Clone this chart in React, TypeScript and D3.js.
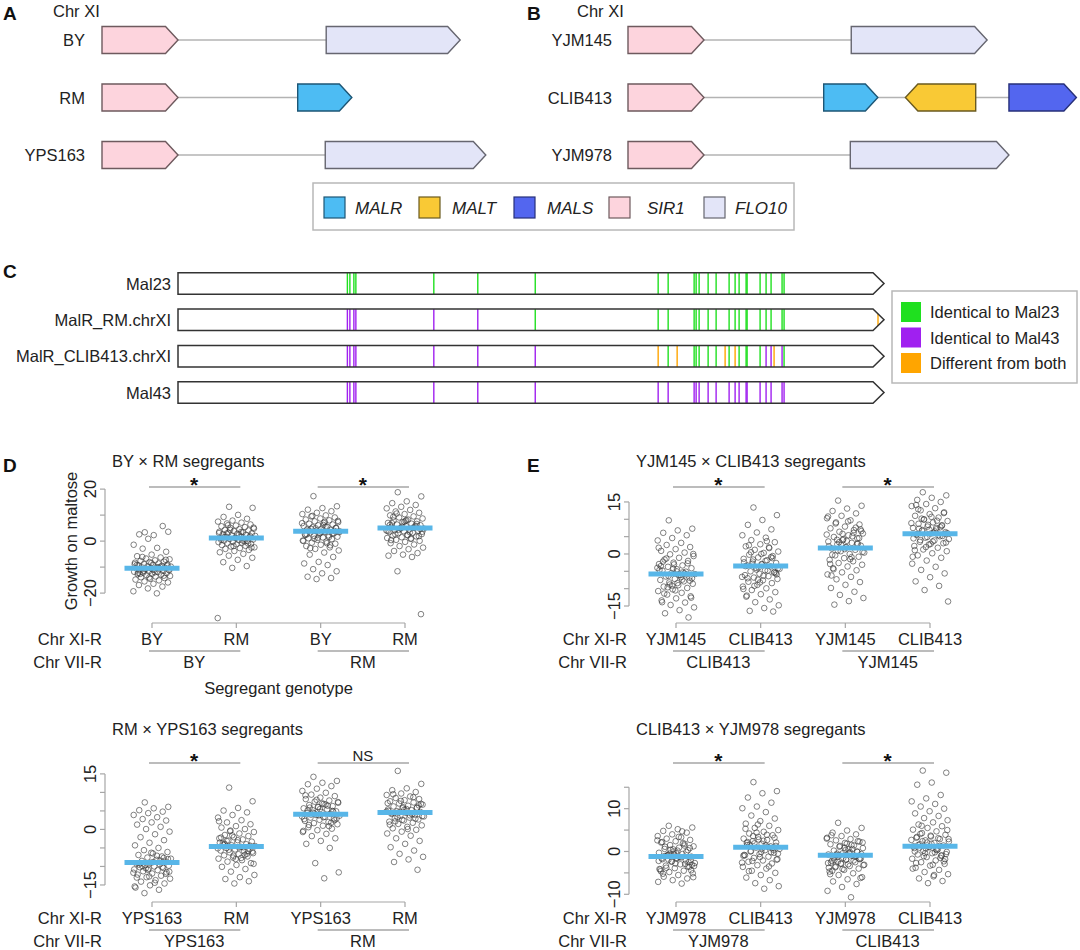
import React from "react";
import * as d3 from "d3";

// ---------------- DATA ----------------
// Panel A / B: gene structures on Chr XI (positions in kb from SIR1 start)
const GENE_NAMES = ["MALR", "MALT", "MALS", "SIR1", "FLO10"];
const STRAINS_A = ["BY", "RM", "YPS163"];
const STRAINS_B = ["YJM145", "CLIB413", "YJM978"];
const GENES_A = [
  { strain: "BY", gene: "SIR1", start: 0, end: 4.0, strand: 1 },
  { strain: "BY", gene: "FLO10", start: 11.8, end: 18.85, strand: 1 },
  { strain: "RM", gene: "SIR1", start: 0, end: 4.0, strand: 1 },
  { strain: "RM", gene: "MALR", start: 10.3, end: 13.15, strand: 1 },
  { strain: "YPS163", gene: "SIR1", start: 0, end: 4.0, strand: 1 },
  { strain: "YPS163", gene: "FLO10", start: 11.75, end: 20.2, strand: 1 },
];
const GENES_B = [
  { strain: "YJM145", gene: "SIR1", start: 0, end: 4.0, strand: 1 },
  { strain: "YJM145", gene: "FLO10", start: 11.75, end: 18.9, strand: 1 },
  { strain: "CLIB413", gene: "SIR1", start: 0, end: 4.0, strand: 1 },
  { strain: "CLIB413", gene: "MALR", start: 10.3, end: 13.15, strand: 1 },
  { strain: "CLIB413", gene: "MALT", start: 14.6, end: 18.3, strand: -1 },
  { strain: "CLIB413", gene: "MALS", start: 20.05, end: 23.6, strand: 1 },
  { strain: "YJM978", gene: "SIR1", start: 0, end: 4.0, strand: 1 },
  { strain: "YJM978", gene: "FLO10", start: 11.7, end: 20.05, strand: 1 },
];

// Panel C: MalR alleles, variant positions (bp) and calls (G = Mal23, P = Mal43, O = different, . = none)
const ALLELES = ["Mal23", "MalR_RM.chrXI", "MalR_CLIB413.chrXI", "Mal43"];
const MALR_LENGTH = 1413;
const VARIANT_POS = [339, 344, 352, 356, 512, 600, 715, 961, 981, 999, 1033, 1037, 1043, 1061, 1077, 1095, 1103, 1115, 1123, 1137, 1139, 1165, 1177, 1187, 1193, 1209, 1213, 1401];
const VARIANT_CALLS = [
  "GGGGGGGGG.GGGGG.GGGGGGGG.GG.",
  "PPPPPPGGG.GGGGG.GGGGGGGG.GGO",
  "PPPPPPPOGOGGGGGOGOGGGGPPOPG.",
  "PPPPPPPPP.PPPPP.PPPPPPPP.PP.",
];
const VARIANT_LEGEND = ["Identical to Mal23", "Identical to Mal43", "Different from both"];

// Panel D top: BY x RM segregants
const TITLE_BY_RM = "BY × RM segregants";
const XI_BY_RM = ["BY", "RM", "BY", "RM"];
const VII_BY_RM = ["BY", "RM"];
const SIG_BY_RM = ["*", "*"];
const MEANS_BY_RM = [-10.4, 1.2, 3.8, 5.0];
const TICKS_BY_RM = [-20, -10, 0, 10, 20];
const TICKLABELS_BY_RM = [-20, 0, 20];
const BYBY_BYRM = [3.4, 3.6, 2.3, 2.6, 5.8, 0.9, -1.4, -2.6, -2.9, -4.1, -5.2, -5.8, -6.3, -6.7, -7.0, -7.4, -7.6, -7.9, -8.1, -8.3, -8.6, -8.8, -9.0, -9.1, -9.3, -9.5, -9.7, -9.8, -10.0, -10.1, -10.3, -10.4, -10.5, -10.7, -10.8, -11.0, -11.1, -11.3, -11.4, -11.6, -11.8, -11.9, -12.1, -12.3, -12.5, -12.7, -12.9, -13.1, -13.4, -13.6, -13.9, -14.2, -14.5, -14.8, -15.1, -15.5, -15.9, -16.4, -16.9, -17.5, -18.2, -19.3, -20.1, -6.1, -7.2, -8.4, -9.2, -9.9, -10.6, -11.2, -12.0, -12.6, -13.3, -14.0, -8.9, -10.2, -11.5, -9.4, -10.9, -12.2];
const RMBY_BYRM = [13.2, 12.8, 10.1, 9.3, 8.6, 7.9, 7.5, 7.1, 6.8, 6.4, 6.0, 5.7, 5.4, 5.1, 4.8, 4.6, 4.3, 4.1, 3.9, 3.6, 3.4, 3.2, 3.0, 2.8, 2.6, 2.4, 2.2, 2.0, 1.8, 1.7, 1.5, 1.3, 1.1, 0.9, 0.8, 0.6, 0.4, 0.2, 0.0, -0.2, -0.4, -0.6, -0.8, -1.0, -1.2, -1.5, -1.8, -2.1, -2.4, -2.7, -3.0, -3.4, -3.8, -4.3, -4.9, -5.6, -6.4, -7.2, -8.1, -9.6, -10.3, -29.6, 3.5, 2.9, 1.9, 1.2, 0.5, -0.1, 4.4, 5.2, 2.5, 1.6, -0.9, -1.9, 3.1, 0.3, 6.1, -2.5];
const BYRM_BYRM = [17.3, 13.4, 12.7, 12.1, 11.5, 10.9, 10.4, 9.9, 9.5, 9.1, 8.7, 8.3, 8.0, 7.6, 7.3, 7.0, 6.7, 6.4, 6.1, 5.8, 5.5, 5.3, 5.0, 4.8, 4.5, 4.3, 4.0, 3.8, 3.5, 3.3, 3.0, 2.8, 2.5, 2.2, 2.0, 1.7, 1.4, 1.1, 0.8, 0.5, 0.2, -0.2, -0.6, -1.0, -1.4, -1.9, -2.4, -3.0, -3.6, -4.4, -5.2, -6.1, -8.0, -8.6, -9.2, -10.8, -11.6, -12.4, -13.7, -14.2, -14.6, 6.9, 5.6, 4.7, 3.9, 3.1, 2.4, 1.6, 0.9, 7.8, 6.2, 4.1, 2.9, 1.3, 0.1, -0.8, 9.7, 5.1, 3.6, 2.6, -1.6, 4.9, 3.4, 7.4, -2.7];
const RMRM_BYRM = [18.8, 17.2, 15.3, 14.6, 13.9, 13.2, 12.6, 12.0, 11.4, 10.9, 10.4, 9.9, 9.5, 9.1, 8.7, 8.3, 7.9, 7.6, 7.3, 7.0, 6.7, 6.4, 6.1, 5.8, 5.5, 5.3, 5.0, 4.8, 4.5, 4.3, 4.0, 3.8, 3.5, 3.2, 3.0, 2.7, 2.4, 2.1, 1.8, 1.5, 1.2, 0.9, 0.5, 0.1, -0.3, -0.8, -1.3, -1.9, -2.5, -3.1, -3.8, -4.6, -5.2, -5.6, -6.1, -11.6, -28.1, 8.1, 6.9, 5.9, 4.9, 4.1, 3.4, 2.6, 1.9, 7.4, 6.2, 5.2, 4.4, 3.6, 2.2, 9.3, 6.6, 5.6, 3.9, 1.0, 10.6, 4.7, 7.8, 0.4];

// Panel D bottom: RM x YPS163 segregants
const TITLE_RM_YPS = "RM × YPS163 segregants";
const XI_RM_YPS = ["YPS163", "RM", "YPS163", "RM"];
const VII_RM_YPS = ["YPS163", "RM"];
const SIG_RM_YPS = ["*", "NS"];
const MEANS_RM_YPS = [-8.9, -4.6, 4.1, 4.6];
const TICKS_15 = [-15, -10, -5, 0, 5, 10, 15];
const TICKLABELS_15 = [-15, 0, 15];
const YPSYPS_RMYPS = [7.3, 6.1, 5.7, 5.2, 4.8, 4.4, 3.9, 3.3, 2.8, 2.4, 1.9, 1.3, 0.7, 0.1, -0.6, -1.3, -2.1, -2.9, -3.6, -4.3, -5.0, -5.6, -6.1, -6.5, -6.9, -7.3, -7.6, -7.9, -8.2, -8.5, -8.7, -9.0, -9.2, -9.4, -9.6, -9.8, -10.0, -10.2, -10.4, -10.6, -10.8, -11.0, -11.3, -11.6, -11.9, -12.2, -12.5, -12.9, -13.3, -13.7, -14.1, -14.6, -15.1, -15.7, -16.3, -17.2, -8.0, -8.8, -9.5, -10.1, -10.9, -11.7, -7.1, -9.9, -12.0, -6.3, -13.0, -8.4, -10.5, -11.4, -14.4, -9.1, -7.7, -12.7, -15.4];
const RMYPS_RMYPS = [11.3, 7.6, 5.8, 5.1, 4.6, 3.9, 3.2, 2.5, 1.9, 1.4, 0.9, 0.5, 0.1, -0.3, -0.7, -1.1, -1.5, -1.8, -2.1, -2.4, -2.7, -3.0, -3.3, -3.5, -3.8, -4.0, -4.3, -4.5, -4.7, -5.0, -5.2, -5.4, -5.7, -5.9, -6.2, -6.4, -6.7, -7.0, -7.3, -7.6, -7.9, -8.3, -8.7, -9.1, -9.6, -10.1, -10.7, -11.4, -12.3, -12.9, -13.4, -14.0, -14.6, -3.6, -4.8, -5.5, -6.0, -2.9, -4.2, -6.6, -1.6, -5.1, -7.7, -3.1, -4.4, -8.0, -2.2, -6.9, -0.5, -9.3, -4.9, -3.9, -5.8, -7.1, 2.2];
const YPSRM_RMYPS = [14.2, 13.1, 12.6, 12.2, 11.7, 11.0, 10.4, 9.9, 9.4, 9.0, 8.6, 8.2, 7.8, 7.5, 7.2, 6.9, 6.6, 6.3, 6.0, 5.7, 5.4, 5.2, 4.9, 4.7, 4.4, 4.2, 3.9, 3.7, 3.4, 3.2, 2.9, 2.6, 2.3, 2.0, 1.7, 1.4, 1.0, 0.6, 0.2, -0.2, -0.7, -1.2, -1.8, -2.4, -3.1, -3.9, -5.0, -9.1, -11.6, -13.2, 5.9, 4.8, 3.8, 2.8, 6.4, 4.5, 3.0, 7.0, 5.1, 1.8, 8.0, 3.5, 6.7, 4.0, 2.5, 5.5, 9.2, 0.9, 4.3, 7.4, 3.3, 1.2, 5.0, 6.1, -0.4];
const RMRM_RMYPS = [15.8, 12.3, 11.1, 10.6, 10.1, 9.7, 9.3, 8.9, 8.5, 8.2, 7.9, 7.6, 7.3, 7.0, 6.7, 6.4, 6.2, 5.9, 5.7, 5.4, 5.2, 4.9, 4.7, 4.5, 4.2, 4.0, 3.7, 3.5, 3.2, 3.0, 2.7, 2.4, 2.1, 1.8, 1.5, 1.1, 0.7, 0.3, -0.1, -0.6, -1.1, -1.7, -2.4, -3.1, -3.9, -4.8, -5.7, -6.6, -7.4, -8.1, -8.8, -10.9, 6.0, 5.0, 4.1, 3.3, 6.9, 5.5, 4.4, 2.9, 7.7, 4.8, 3.8, 2.2, 6.5, 5.3, 1.3, 8.7, 4.6, 3.6, 0.1, 9.5, 5.8, 2.6, 7.1];

// Panel E top: YJM145 x CLIB413 segregants
const TITLE_YJM_CLIB = "YJM145 × CLIB413 segregants";
const XI_YJM_CLIB = ["YJM145", "CLIB413", "YJM145", "CLIB413"];
const VII_YJM_CLIB = ["CLIB413", "YJM145"];
const SIG_YJM_CLIB = ["*", "*"];
const MEANS_YJM_CLIB = [-5.8, -3.5, 1.7, 5.8];
const YJMCLIB_1 = [9.7, 7.3, 6.8, 6.1, 5.4, 4.6, 3.9, 3.2, 2.6, 2.0, 1.4, 0.9, 0.4, -0.1, -0.6, -1.1, -1.6, -2.0, -2.5, -2.9, -3.3, -3.7, -4.1, -4.4, -4.8, -5.1, -5.5, -5.8, -6.1, -6.5, -6.8, -7.2, -7.5, -7.9, -8.2, -8.6, -9.0, -9.4, -9.8, -10.2, -10.7, -11.2, -11.7, -12.2, -12.8, -13.4, -14.0, -14.7, -15.4, -16.2, -17.1, -18.3, -3.0, -4.6, -5.3, -6.3, -7.0, -8.4, -2.2, -5.9, -9.1, -4.0, -6.7, -1.3, -7.7, -10.5, -3.5, -5.6, -8.8, 0.0, -6.0, -11.4, -2.7, -4.3, 1.8, -7.4, -9.6, -12.6, -5.0, -13.9];
const YJMCLIB_2 = [13.4, 11.2, 9.8, 8.4, 7.1, 6.2, 5.4, 4.7, 4.0, 3.4, 2.8, 2.2, 1.7, 1.2, 0.7, 0.3, -0.2, -0.6, -1.0, -1.4, -1.8, -2.2, -2.6, -2.9, -3.3, -3.6, -4.0, -4.3, -4.7, -5.0, -5.4, -5.7, -6.1, -6.4, -6.8, -7.2, -7.6, -8.0, -8.4, -8.9, -9.4, -9.9, -10.4, -11.0, -11.6, -12.3, -13.1, -13.9, -14.8, -15.6, -16.4, -16.6, -3.9, -2.4, -4.8, -1.6, -5.9, -3.0, -7.0, -0.9, -4.5, -6.6, -2.0, 0.5, -5.2, -8.2, -3.5, 1.9, -9.2, -4.1, -6.3, 2.5, -1.2, -7.4, -10.1, 3.7, -2.8, -5.5, 0.0, -12.0];
const YJMCLIB_3 = [15.4, 13.9, 13.1, 12.4, 11.7, 11.0, 10.3, 9.7, 9.1, 8.5, 7.9, 7.4, 6.9, 6.4, 5.9, 5.4, 4.9, 4.5, 4.0, 3.6, 3.2, 2.8, 2.4, 2.0, 1.6, 1.2, 0.8, 0.4, 0.0, -0.4, -0.8, -1.2, -1.7, -2.1, -2.6, -3.1, -3.6, -4.1, -4.7, -5.3, -5.9, -6.6, -7.3, -8.1, -8.9, -9.8, -10.9, -11.8, -12.7, -13.6, -14.6, 3.0, 4.3, 2.2, 5.1, 1.0, 6.6, 3.8, -0.2, 7.6, 2.6, 5.6, -1.5, 8.8, 4.6, 1.4, -2.9, 6.1, 3.4, 0.6, 9.4, -4.4, 2.9, 5.8, 10.8, -0.9, 4.1, 7.1, 1.9, -6.2];
const YJMCLIB_4 = [17.8, 16.9, 16.2, 15.6, 15.0, 14.4, 13.8, 13.2, 12.6, 12.0, 11.5, 11.0, 10.5, 10.0, 9.5, 9.1, 8.7, 8.3, 7.9, 7.5, 7.1, 6.7, 6.3, 5.9, 5.5, 5.1, 4.7, 4.3, 3.9, 3.5, 3.1, 2.7, 2.3, 1.8, 1.3, 0.8, 0.2, -0.4, -1.1, -1.9, -2.8, -3.7, -4.6, -5.6, -6.7, -7.9, -9.2, -10.4, -13.7, 6.1, 7.3, 5.2, 8.4, 4.5, 9.6, 6.9, 3.3, 10.7, 5.7, 7.7, 2.0, 8.9, 6.5, 4.0, 11.8, 7.0, 1.1, 5.4, 9.9, 6.0, 3.6, 12.9, 8.1, 4.9, -0.8, 7.5, 10.2, 5.8, 2.9, 14.1];

// Panel E bottom: CLIB413 x YJM978 segregants
const TITLE_CLIB_YJM978 = "CLIB413 × YJM978 segregants";
const XI_CLIB_YJM978 = ["YJM978", "CLIB413", "YJM978", "CLIB413"];
const VII_CLIB_YJM978 = ["YJM978", "CLIB413"];
const SIG_CLIB_YJM978 = ["*", "*"];
const MEANS_CLIB_YJM978 = [-1.2, 1.0, -0.9, 1.2];
const TICKS_10 = [-10, -5, 0, 5, 10, 15];
const TICKLABELS_10 = [-10, 0, 10];
const CLIBYJM_1 = [6.0, 5.6, 5.2, 4.8, 4.4, 4.0, 3.6, 3.3, 3.0, 2.7, 2.4, 2.1, 1.8, 1.5, 1.2, 0.9, 0.6, 0.3, 0.0, -0.3, -0.6, -0.9, -1.2, -1.5, -1.8, -2.1, -2.4, -2.7, -3.0, -3.3, -3.6, -3.9, -4.2, -4.5, -4.8, -5.1, -5.5, -5.9, -6.3, -6.7, -7.1, -7.5, -1.0, -2.0, -0.4, -1.6, -2.9, 0.4, -3.4, -1.3, 1.1, -2.5, -0.7, -4.1, 1.9, -1.9, -3.1, 0.2, -5.2, -0.1, -2.3, 2.6, -1.4, -3.8, 0.8, -2.8, -4.6, 1.4, -0.5, -6.0, 3.4, -1.1, -3.5, 0.5, -2.2, 4.7, -0.8, -4.4, -1.7, 2.2];
const CLIBYJM_2 = [16.2, 14.1, 13.6, 12.6, 11.4, 10.5, 10.1, 9.2, 8.4, 7.7, 7.1, 6.5, 6.0, 5.5, 5.0, 4.6, 4.2, 3.8, 3.4, 3.0, 2.7, 2.4, 2.1, 1.8, 1.5, 1.2, 0.9, 0.6, 0.3, 0.0, -0.3, -0.6, -0.9, -1.2, -1.5, -1.8, -2.1, -2.4, -2.8, -3.2, -3.6, -4.0, -4.5, -5.0, -5.5, -6.1, -6.7, -7.4, -8.1, -8.7, 1.6, 0.4, 2.8, -0.8, 1.1, 3.6, -1.9, 0.7, 2.2, -0.2, 4.4, -2.6, 1.4, 0.1, 3.2, -1.3, 5.3, -3.5, 1.9, -0.5, 2.5, -4.6, 0.8, 6.3, -1.0, 3.9, -2.2, 1.3, -0.1, 2.0];
const CLIBYJM_3 = [6.7, 5.5, 4.9, 4.4, 4.0, 3.6, 3.2, 2.9, 2.6, 2.3, 2.0, 1.7, 1.4, 1.1, 0.8, 0.5, 0.2, -0.1, -0.4, -0.7, -1.0, -1.3, -1.6, -1.9, -2.2, -2.5, -2.8, -3.1, -3.4, -3.7, -4.0, -4.3, -4.7, -5.1, -5.5, -6.0, -6.5, -7.0, -7.6, -8.3, -9.2, -10.7, -0.8, -1.8, 0.3, -2.6, -1.2, 1.3, -3.2, -0.3, -2.0, 2.4, -1.5, -3.8, 0.6, -2.4, -0.6, 1.8, -4.5, -1.1, -2.9, 3.0, -0.2, -3.5, -1.7, 0.9, -5.3, -2.1, -0.9, 2.1, -3.0, -1.4, 0.0, -4.1, -2.7, 1.5, -0.5, -6.2, -1.9, 3.8];
const CLIBYJM_4 = [18.9, 18.4, 16.1, 15.6, 13.2, 12.4, 11.7, 11.1, 10.5, 10.0, 9.4, 8.9, 8.3, 7.8, 7.3, 6.8, 6.3, 5.9, 5.5, 5.1, 4.7, 4.3, 3.9, 3.5, 3.2, 2.9, 2.6, 2.3, 2.0, 1.7, 1.4, 1.1, 0.8, 0.5, 0.2, -0.1, -0.4, -0.7, -1.0, -1.3, -1.7, -2.1, -2.5, -2.9, -3.3, -3.8, -4.3, -4.8, -5.3, -5.8, -6.3, -6.9, -7.4, 1.2, 0.3, 2.4, -0.6, 1.8, 3.4, -1.5, 0.7, 2.7, -0.2, 4.1, -2.3, 1.0, 0.0, 3.1, -1.1, 5.0, -3.1, 1.5, -0.9, 2.1, -4.0, 0.5, 6.0, -1.8, 3.7, -2.7, 1.3, -0.4, 2.9, -5.5, 0.9];

// ---------------- STYLE ----------------
const FONT = "'Liberation Sans', Arial, Helvetica, sans-serif";
const TXT = "#222";
const FS = 16.5;
const GENE_STYLE: Record<string, { fill: string; stroke: string }> = {
  MALR: { fill: "#4dbcf3", stroke: "#1d5675" },
  MALT: { fill: "#f9c935", stroke: "#6a5a1f" },
  MALS: { fill: "#5366ef", stroke: "#27307a" },
  SIR1: { fill: "#fdd4dd", stroke: "#6e5a5e" },
  FLO10: { fill: "#e3e5f8", stroke: "#666670" },
};
const CALL_COLORS: Record<string, string> = { G: "#1fe01f", P: "#a020f0", O: "#ffa500" };
const LEGEND_KEYS = ["G", "P", "O"];

function arrowPath(x0: number, x1: number, cy: number, h: number, head: number, strand: number) {
  const p = d3.path();
  const t = cy - h / 2, b = cy + h / 2;
  if (strand > 0) {
    const xb = x1 - head;
    p.moveTo(x0, t); p.lineTo(xb, t); p.lineTo(x1, cy); p.lineTo(xb, b); p.lineTo(x0, b); p.closePath();
  } else {
    const xb = x0 + head;
    p.moveTo(x1, t); p.lineTo(xb, t); p.lineTo(x0, cy); p.lineTo(xb, b); p.lineTo(x1, b); p.closePath();
  }
  return p.toString();
}

function GeneMap({ strains, genes, x0, labelRight, letter, letterX, chrX }: any) {
  const x = d3.scaleLinear().domain([0, 10]).range([x0, x0 + 190]);
  const y = d3.scalePoint<string>().domain(strains).range([40, 155]);
  return (
    <g>
      <text x={letterX} y={20} fontSize={19} fontWeight="bold" fill="#111">{letter}</text>
      <text x={chrX} y={16.5} fontSize={FS} fill={TXT}>Chr XI</text>
      {strains.map((s: string) => {
        const gs = genes.filter((g: any) => g.strain === s);
        const lo = d3.min(gs, (g: any) => g.start) as number;
        const hi = d3.max(gs, (g: any) => g.end) as number;
        const cy = y(s) as number;
        return (
          <g key={s}>
            <text x={labelRight} y={cy + 6} fontSize={FS} textAnchor="end" fill={TXT}>{s}</text>
            <line x1={x(lo)} x2={x(hi)} y1={cy} y2={cy} stroke="#b3b3b3" strokeWidth={1.6} />
            {gs.map((g: any, i: number) => (
              <path key={i} d={arrowPath(x(g.start), x(g.end), cy, 27, 12.5, g.strand)}
                fill={GENE_STYLE[g.gene].fill} stroke={GENE_STYLE[g.gene].stroke} strokeWidth={1.4} />
            ))}
          </g>
        );
      })}
    </g>
  );
}

function GeneLegend() {
  const x = d3.scaleLinear().domain([0, 1]).range([324, 419]);
  const dx = [31, 33, 33, 38, 31];
  return (
    <g>
      <rect x={313} y={183} width={481} height={47} fill="#fff" stroke="#b8b8b8" strokeWidth={1.5} />
      {GENE_NAMES.map((g, i) => (
        <g key={g}>
          <rect x={x(i)} y={197} width={21} height={21} fill={GENE_STYLE[g].fill} stroke={GENE_STYLE[g].stroke} strokeWidth={1.2} />
          <text x={x(i) + dx[i]} y={213.5} fontSize={17} fontStyle="italic" fill={TXT}>{g}</text>
        </g>
      ))}
    </g>
  );
}

function AlleleMap() {
  const x = d3.scaleLinear().domain([0, MALR_LENGTH]).range([178, 884]);
  const y = d3.scalePoint<string>().domain(ALLELES).range([283.5, 392.5]);
  const h = 21.5;
  return (
    <g>
      <text x={3} y={278} fontSize={19} fontWeight="bold" fill="#111">C</text>
      {ALLELES.map((a, r) => {
        const cy = y(a) as number;
        const d = arrowPath(x(0), x(MALR_LENGTH), cy, h, 11, 1);
        return (
          <g key={a}>
            <clipPath id={`clipC${r}`}><path d={d} /></clipPath>
            <text x={171} y={cy + 6} fontSize={FS} textAnchor="end" fill={TXT}>{a}</text>
            <path d={d} fill="#fff" />
            <g clipPath={`url(#clipC${r})`}>
              {VARIANT_POS.map((p, i) => {
                const c = VARIANT_CALLS[r][i];
                if (!CALL_COLORS[c]) return null;
                return <line key={i} x1={x(p)} x2={x(p)} y1={cy - h / 2} y2={cy + h / 2} stroke={CALL_COLORS[c]} strokeWidth={1.4} />;
              })}
            </g>
            <path d={d} fill="none" stroke="#333" strokeWidth={1.5} />
          </g>
        );
      })}
      <rect x={892} y={291} width={185} height={92} fill="#fff" stroke="#b8b8b8" strokeWidth={1.5} />
      {VARIANT_LEGEND.map((t, i) => (
        <g key={t}>
          <rect x={901} y={302 + i * 25.5} width={20} height={20} fill={CALL_COLORS[LEGEND_KEYS[i]]} />
          <text x={930} y={318 + i * 25.5} fontSize={FS} fill={TXT}>{t}</text>
        </g>
      ))}
    </g>
  );
}

const fmt = (v: number) => (v < 0 ? "\u2212" : "") + Math.abs(v);
const jitter = (i: number) => (((i * 0.6180339887 + 0.31) % 1) - 0.5) * 2 * 19;

function StripPlot({ side, row, title, values, means, xi, vii, sig, yDomain, ticks, tickLabels, yTitle, xTitle }: any) {
  const L = side === 0
    ? { g0: 152, g1: 405, axisX: 105, titleX: 112, rowLab: 102 }
    : { g0: 676, g1: 930, axisX: 629, titleX: 636, rowLab: 627 };
  const R = row === 0
    ? { top: 486, bottom: 623, titleY: 467, sigY: 487 }
    : { top: 765, bottom: 902, titleY: 735, sigY: 763 };
  const x = d3.scaleLinear().domain([0, 3]).range([L.g0, L.g1]);
  const y = d3.scaleLinear().domain(yDomain).range([R.bottom, R.top]);
  const pairs = [[0, 1], [2, 3]];
  const gray = "#a6a6a6";
  return (
    <g>
      <text x={L.titleX} y={R.titleY} fontSize={FS} fill={TXT}>{title}</text>
      {pairs.map(([a, b], k) => (
        <g key={k}>
          <line x1={x(a) - 3} x2={x(b) + 4} y1={R.sigY} y2={R.sigY} stroke={gray} strokeWidth={1.5} />
          {sig[k] === "*"
            ? <text x={(x(a) + x(b)) / 2} y={R.sigY + 5} fontSize={21} fontWeight="bold" textAnchor="middle" fill="#111">*</text>
            : <text x={(x(a) + x(b)) / 2} y={R.sigY - 2} fontSize={15} textAnchor="middle" fill={TXT}>{sig[k]}</text>}
        </g>
      ))}
      <line x1={L.axisX} x2={L.axisX} y1={y(d3.min(ticks) as number)} y2={y(d3.max(ticks) as number)} stroke={gray} strokeWidth={1.2} />
      {ticks.map((t: number) => (
        <line key={t} x1={L.axisX - 5} x2={L.axisX} y1={y(t)} y2={y(t)} stroke={gray} strokeWidth={1.2} />
      ))}
      {tickLabels.map((t: number) => (
        <text key={t} transform={`translate(${L.axisX - 9},${y(t)}) rotate(-90)`} fontSize={FS} textAnchor="middle" fill={TXT}>{fmt(t)}</text>
      ))}
      {yTitle && (
        <text transform={`translate(${L.axisX - 28},541) rotate(-90)`} fontSize={FS} textAnchor="middle" fill={TXT}>{yTitle}</text>
      )}
      {values.map((vals: number[], g: number) => (
        <g key={g}>
          {vals.map((v, i) => (
            <circle key={i} cx={x(g) + jitter(i)} cy={y(v)} r={2.8} fill="none" stroke="#3a3a3a" strokeOpacity={0.7} strokeWidth={0.9} />
          ))}
        </g>
      ))}
      {means.map((m: number, g: number) => (
        <line key={g} x1={x(g) - 27.5} x2={x(g) + 27.5} y1={y(m)} y2={y(m)} stroke="#58b6e8" strokeWidth={5} />
      ))}
      <line x1={x(0)} x2={x(3)} y1={R.bottom} y2={R.bottom} stroke={gray} strokeWidth={1.2} />
      {[0, 1, 2, 3].map((g) => (
        <line key={g} x1={x(g)} x2={x(g)} y1={R.bottom} y2={R.bottom + 5} stroke={gray} strokeWidth={1.2} />
      ))}
      <text x={L.rowLab} y={R.bottom + 22} fontSize={FS} textAnchor="end" fill={TXT}>Chr XI-R</text>
      {xi.map((s: string, g: number) => (
        <text key={g} x={x(g)} y={R.bottom + 22} fontSize={FS} textAnchor="middle" fill={TXT}>{s}</text>
      ))}
      {pairs.map(([a, b], k) => (
        <line key={k} x1={x(a) - 3} x2={x(b) + 4} y1={R.bottom + 28} y2={R.bottom + 28} stroke={gray} strokeWidth={1.5} />
      ))}
      <text x={L.rowLab} y={R.bottom + 45} fontSize={FS} textAnchor="end" fill={TXT}>Chr VII-R</text>
      {vii.map((s: string, k: number) => (
        <text key={k} x={(x(pairs[k][0]) + x(pairs[k][1])) / 2} y={R.bottom + 45} fontSize={FS} textAnchor="middle" fill={TXT}>{s}</text>
      ))}
      {xTitle && (
        <text x={(x(0) + x(3)) / 2} y={R.bottom + 71} fontSize={FS} textAnchor="middle" fill={TXT}>{xTitle}</text>
      )}
    </g>
  );
}

export default function App() {
  return (
    <div style={{ position: "absolute", left: 0, top: 0 }}>
      <svg width={1080} height={950} style={{ display: "block", fontFamily: FONT }}>
        <rect width={1080} height={950} fill="#fff" />
        <GeneMap strains={STRAINS_A} genes={GENES_A} x0={102} labelRight={85} letter="A" letterX={3} chrX={53} />
        <GeneMap strains={STRAINS_B} genes={GENES_B} x0={628} labelRight={612} letter="B" letterX={527} chrX={577} />
        <GeneLegend />
        <AlleleMap />
        <text x={3} y={472} fontSize={19} fontWeight="bold" fill="#111">D</text>
        <text x={527} y={472} fontSize={19} fontWeight="bold" fill="#111">E</text>
        <StripPlot side={0} row={0} title={TITLE_BY_RM} values={[BYBY_BYRM, RMBY_BYRM, BYRM_BYRM, RMRM_BYRM]}
          means={MEANS_BY_RM} xi={XI_BY_RM} vii={VII_BY_RM} sig={SIG_BY_RM} yDomain={[-31.5, 21.2]}
          ticks={TICKS_BY_RM} tickLabels={TICKLABELS_BY_RM} yTitle="Growth on maltose" xTitle="Segregant genotype" />
        <StripPlot side={0} row={1} title={TITLE_RM_YPS} values={[YPSYPS_RMYPS, RMYPS_RMYPS, YPSRM_RMYPS, RMRM_RMYPS]}
          means={MEANS_RM_YPS} xi={XI_RM_YPS} vii={VII_RM_YPS} sig={SIG_RM_YPS} yDomain={[-19.6, 17.4]}
          ticks={TICKS_15} tickLabels={TICKLABELS_15} />
        <StripPlot side={1} row={0} title={TITLE_YJM_CLIB} values={[YJMCLIB_1, YJMCLIB_2, YJMCLIB_3, YJMCLIB_4]}
          means={MEANS_YJM_CLIB} xi={XI_YJM_CLIB} vii={VII_YJM_CLIB} sig={SIG_YJM_CLIB} yDomain={[-19.9, 19.6]}
          ticks={TICKS_15} tickLabels={TICKLABELS_15} />
        <StripPlot side={1} row={1} title={TITLE_CLIB_YJM978} values={[CLIBYJM_1, CLIBYJM_2, CLIBYJM_3, CLIBYJM_4]}
          means={MEANS_CLIB_YJM978} xi={XI_CLIB_YJM978} vii={VII_CLIB_YJM978} sig={SIG_CLIB_YJM978} yDomain={[-11.8, 20.2]}
          ticks={TICKS_10} tickLabels={TICKLABELS_10} />
      </svg>
    </div>
  );
}
